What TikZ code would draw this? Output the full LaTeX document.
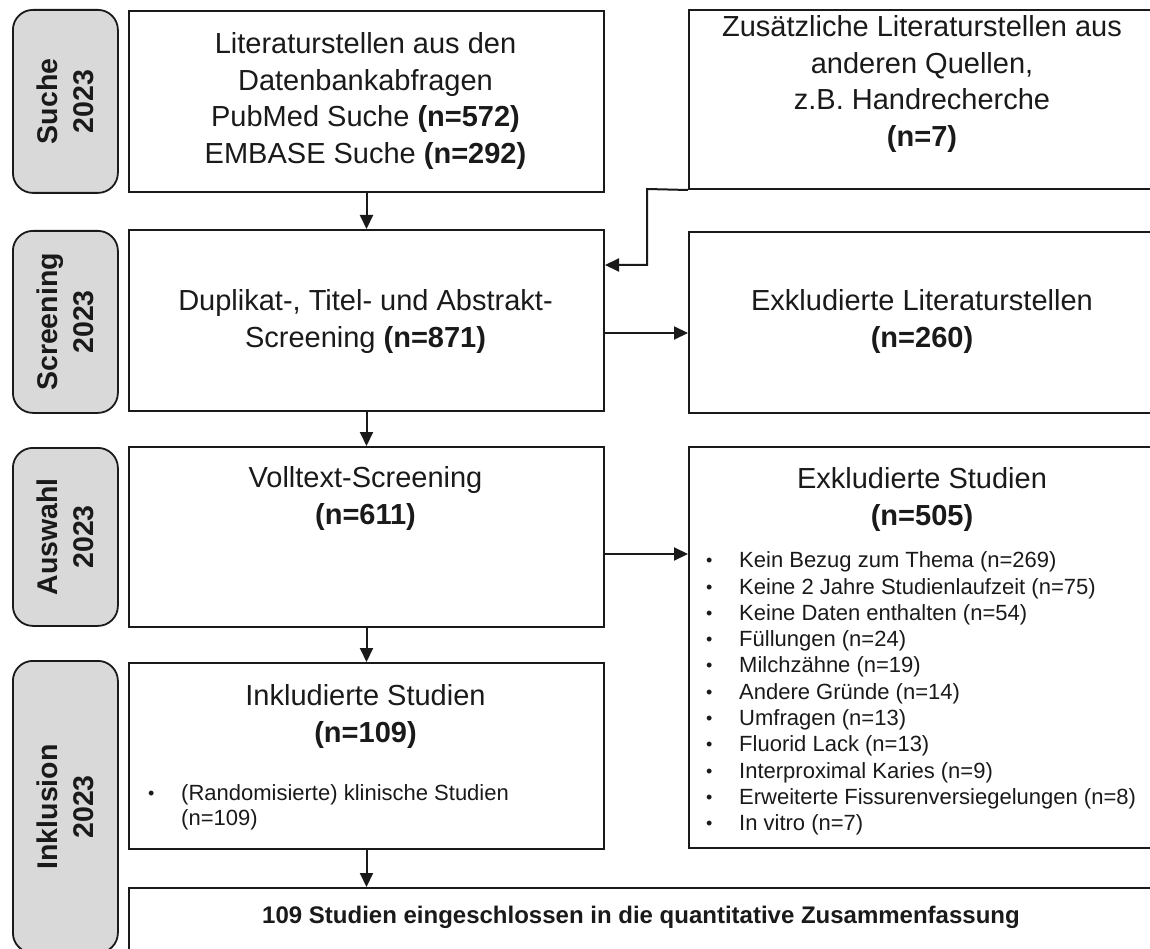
\documentclass[tikz,border=0pt]{standalone}
\usepackage{fontspec}
\setmainfont{Liberation Sans}
\usetikzlibrary{arrows.meta}
\definecolor{ink}{HTML}{1A1A1A}
\definecolor{stagefill}{HTML}{D9D9D9}
\newcommand{\itembullet}{\makebox[33pt][l]{\fontsize{18}{18}\selectfont\raisebox{1pt}{•}}}
\begin{document}
\begin{tikzpicture}[x=1pt,y=-1pt,
  box/.style={draw=ink, line width=2pt, fill=white, rectangle, inner sep=0pt, anchor=north west},
  stage/.style={draw=ink, line width=1.8pt, fill=stagefill, rounded corners=20pt, rectangle, inner sep=0pt, anchor=north west},
  head/.style={font=\fontsize{29}{36.5}\selectfont, align=center, text=ink, inner sep=0pt},
  stagetxt/.style={font=\fontsize{28.5}{36}\selectfont\bfseries, align=center, rotate=90, text=ink, inner sep=0pt},
  items/.style={font=\fontsize{22}{26.3}\selectfont, align=left, text=ink, inner sep=0pt, anchor=west},
  arr/.style={draw=ink, line width=2pt, -{Triangle[length=14pt,width=13pt]}},
  ]
\useasboundingbox (0,0) rectangle (1150,949);
\clip (0,0) rectangle (1150,949);
\fill[white] (0,0) rectangle (1150,949);

% stage labels on the left
\node[stage, minimum width=105pt, minimum height=183pt] (s1) at (12,9) {};
\node[stage, minimum width=105pt, minimum height=182pt] (s2) at (12,230) {};
\node[stage, minimum width=105pt, minimum height=178pt] (s3) at (12,447) {};
\node[stage, minimum width=105pt, minimum height=292pt] (s4) at (12,660) {};
\node[stagetxt] (s1t) at (s1.center) {Suche\\2023};
\node[stagetxt] (s2t) at (s2.center) {Screening\\2023};
\node[stagetxt] (s3t) at (s3.center) {Auswahl\\2023};
\node[stagetxt] (s4t) at (s4.center) {Inklusion\\2023};

% flow boxes
\node[box, minimum width=475pt, minimum height=181pt] (b1) at (128,10) {};
\node[box, minimum width=472pt, minimum height=179pt] (b2) at (688,9) {};
\node[box, minimum width=475pt, minimum height=181pt] (b3) at (128,229) {};
\node[box, minimum width=472pt, minimum height=181pt] (b4) at (688,231) {};
\node[box, minimum width=475pt, minimum height=180pt] (b5) at (128,446) {};
\node[box, minimum width=472pt, minimum height=401pt] (b6) at (688,446) {};
\node[box, minimum width=475pt, minimum height=186pt] (b7) at (128,662) {};
\node[box, minimum width=1032pt, minimum height=80pt] (b8) at (128,887) {};

% box texts
\node[head] (b1t) at (365.5,101) {Literaturstellen aus den\\Datenbankabfragen\\PubMed Suche \textbf{(n=572)}\\EMBASE Suche \textbf{(n=292)}};
\node[head] (b2t) at (922,84) {Zusätzliche Literaturstellen aus\\anderen Quellen,\\z.B. Handrecherche\\\textbf{(n=7)}};
\node[head] (b3t) at (365.5,321.5) {Duplikat-, Titel- und Abstrakt-\\Screening \textbf{(n=871)}};
\node[head] (b4t) at (922,321.5) {Exkludierte Literaturstellen\\\textbf{(n=260)}};
\node[head] (b5t) at (365.5,498.5) {Volltext-Screening\\\textbf{(n=611)}};
\node[head] (b6t) at (922,499.5) {Exkludierte Studien\\\textbf{(n=505)}};
\node[items] (b6l) at (706,693.5) {\itembullet Kein Bezug zum Thema (n=269)\\
\itembullet Keine 2 Jahre Studienlaufzeit (n=75)\\
\itembullet Keine Daten enthalten (n=54)\\
\itembullet Füllungen (n=24)\\
\itembullet Milchzähne (n=19)\\
\itembullet Andere Gründe (n=14)\\
\itembullet Umfragen (n=13)\\
\itembullet Fluorid Lack (n=13)\\
\itembullet Interproximal Karies (n=9)\\
\itembullet Erweiterte Fissurenversiegelungen (n=8)\\
\itembullet In vitro (n=7)};
\node[head] (b7t) at (365.5,716.5) {Inkludierte Studien\\\textbf{(n=109)}};
\node[items, font=\fontsize{22}{25}\selectfont] (b7l) at (148,807.5) {\itembullet (Randomisierte) klinische Studien\\\hspace*{33pt}(n=109)};
\node[font=\fontsize{24}{28}\selectfont\bfseries, text=ink, inner sep=0pt] (b8t) at (641,917) {109 Studien eingeschlossen in die quantitative Zusammenfassung};

% connectors
\coordinate (k1) at (647,189);
\coordinate (k2) at (647,265);
\draw[arr] (b1.south) -- (b3.north);
\draw[arr] (b3.south) -- (b5.north);
\draw[arr] (b5.south) -- (b7.north);
\draw[arr] (b7.south) -- (b7.south |- b8.north);
\draw[arr] ([yshift=-12.5pt]b3.east) -- ([yshift=-12.5pt]b3.east -| b4.west);
\draw[arr] ([yshift=-17pt]b5.east) -- ([yshift=-17pt]b5.east -| b6.west);
\draw[arr] (b2.south west) -- (k1) -- (k2) -- (k2 -| b3.east);
\end{tikzpicture}
\end{document}
